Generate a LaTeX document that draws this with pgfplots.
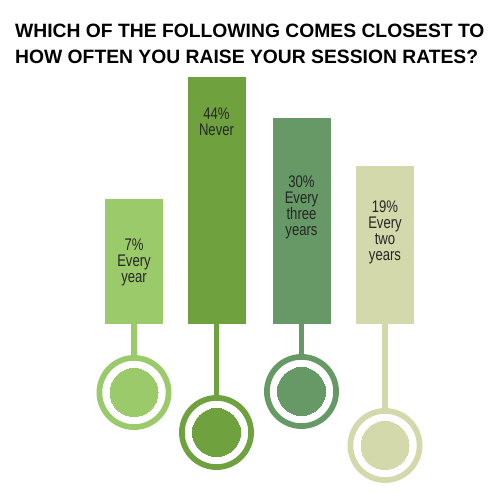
\documentclass[border=0pt]{standalone}
\usepackage{fontspec}
\setmainfont{Liberation Sans}
\newfontfamily\narrowfont[FakeStretch=0.78]{Liberation Sans}
\usepackage{pgfplots}
\pgfplotsset{compat=1.18}

\definecolor{gA}{HTML}{9BCA6A}
\definecolor{gB}{HTML}{6FA23F}
\definecolor{gC}{HTML}{669966}
\definecolor{gD}{HTML}{D4D9AB}
\definecolor{txt}{HTML}{262626}

% one pin: colour, bar centre, bar height, circle centre y, label top y, label
\newcommand\pin[6]{%
  \addplot[ybar, bar width=58, bar shift=0pt, fill=#1, draw=none] coordinates {(#2,#3)};
  \addplot[#1, line width=5.7bp] coordinates {(#2,0) (#2,#4)};
  \addplot[#1, only marks, mark=*, mark size=34.6bp,
    mark options={fill=white, draw=#1, line width=5.7bp}] coordinates {(#2,#4)};
  \addplot[#1, only marks, mark=*, mark size=24bp,
    mark options={fill=#1, draw=#1, line width=0pt}] coordinates {(#2,#4)};
  \node[anchor=north, inner sep=0pt, align=center, text=txt,
    font=\narrowfont\fontsize{16.8bp}{15.7bp}\selectfont] at (axis cs:#2,#5) {#6};
}

\begin{document}
\begin{tikzpicture}
\begin{axis}[
  width=500bp, height=500bp, scale only axis,
  xmin=0, xmax=500, ymin=-176, ymax=324,
  hide axis, clip=false,
]
\pin{gA}{134}{125}{-68.5}{85}{7\%\\Every\\year}
\pin{gB}{216.5}{246.7}{-108.5}{216.5}{44\%\\Never}
\pin{gC}{301.5}{206.3}{-67.5}{148}{30\%\\Every\\three\\years}
\pin{gD}{385}{158.3}{-121.5}{123}{19\%\\Every\\two\\years}

\node[anchor=base west, inner sep=0pt, text=black,
  font=\bfseries\fontsize{19.3bp}{26bp}\selectfont] at (axis cs:15,286.7)
  {WHICH OF THE FOLLOWING COMES CLOSEST TO};
\node[anchor=base west, inner sep=0pt, text=black,
  font=\bfseries\fontsize{19.3bp}{26bp}\selectfont] at (axis cs:15,260.7)
  {HOW OFTEN YOU RAISE YOUR SESSION RATES?};
\end{axis}
\pgfresetboundingbox
\path (current axis.south west) rectangle (current axis.north east);
\end{tikzpicture}
\end{document}
